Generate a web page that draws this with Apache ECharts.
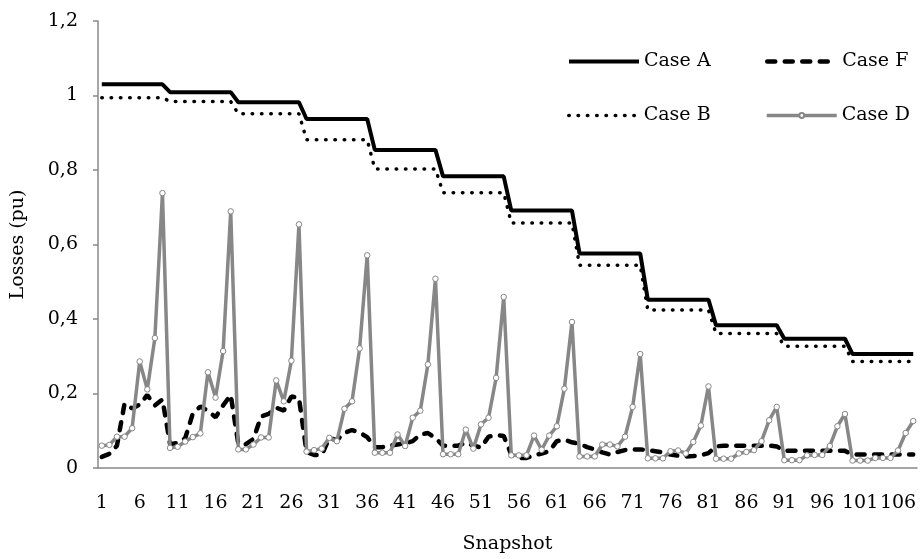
<!DOCTYPE html>
<html>
<head>
<meta charset="utf-8">
<script src="https://cdn.jsdelivr.net/npm/echarts@6/dist/echarts.min.js"></script>
<style>
  html, body { margin: 0; padding: 0; background: #fff; }
  #chart { width: 921px; height: 559px; }
</style>
</head>
<body>
<div id="chart"></div>
<script>
// snapshot numbers on the x axis
const snapshots = [
  1, 2, 3, 4, 5, 6, 7, 8, 9, 10, 11, 12, 13, 14, 15, 16, 17, 18,
  19, 20, 21, 22, 23, 24, 25, 26, 27, 28, 29, 30, 31, 32, 33, 34, 35, 36,
  37, 38, 39, 40, 41, 42, 43, 44, 45, 46, 47, 48, 49, 50, 51, 52, 53, 54,
  55, 56, 57, 58, 59, 60, 61, 62, 63, 64, 65, 66, 67, 68, 69, 70, 71, 72,
  73, 74, 75, 76, 77, 78, 79, 80, 81, 82, 83, 84, 85, 86, 87, 88, 89, 90,
  91, 92, 93, 94, 95, 96, 97, 98, 99, 100, 101, 102, 103, 104, 105, 106, 107, 108
];

// losses (pu), one row per block of 9 snapshots
const caseA = [
  1.030, 1.030, 1.030, 1.030, 1.030, 1.030, 1.030, 1.030, 1.030,
  1.009, 1.009, 1.009, 1.009, 1.009, 1.009, 1.009, 1.009, 1.009,
  0.982, 0.982, 0.982, 0.982, 0.982, 0.982, 0.982, 0.982, 0.982,
  0.937, 0.937, 0.937, 0.937, 0.937, 0.937, 0.937, 0.937, 0.937,
  0.854, 0.854, 0.854, 0.854, 0.854, 0.854, 0.854, 0.854, 0.854,
  0.783, 0.783, 0.783, 0.783, 0.783, 0.783, 0.783, 0.783, 0.783,
  0.691, 0.691, 0.691, 0.691, 0.691, 0.691, 0.691, 0.691, 0.691,
  0.576, 0.576, 0.576, 0.576, 0.576, 0.576, 0.576, 0.576, 0.576,
  0.452, 0.452, 0.452, 0.452, 0.452, 0.452, 0.452, 0.452, 0.452,
  0.383, 0.383, 0.383, 0.383, 0.383, 0.383, 0.383, 0.383, 0.383,
  0.347, 0.347, 0.347, 0.347, 0.347, 0.347, 0.347, 0.347, 0.347,
  0.306, 0.306, 0.306, 0.306, 0.306, 0.306, 0.306, 0.306, 0.306
];

const caseF = [
  0.030, 0.038, 0.060, 0.173, 0.160, 0.170, 0.196, 0.168, 0.184,
  0.064, 0.067, 0.080, 0.146, 0.165, 0.154, 0.136, 0.168, 0.196,
  0.065, 0.064, 0.078, 0.138, 0.145, 0.162, 0.154, 0.192, 0.188,
  0.043, 0.035, 0.035, 0.080, 0.075, 0.094, 0.102, 0.095, 0.083,
  0.056, 0.056, 0.060, 0.063, 0.066, 0.072, 0.090, 0.094, 0.080,
  0.060, 0.060, 0.060, 0.068, 0.060, 0.055, 0.084, 0.088, 0.086,
  0.036, 0.027, 0.027, 0.034, 0.039, 0.045, 0.072, 0.076, 0.069,
  0.065, 0.056, 0.050, 0.042, 0.036, 0.043, 0.048, 0.050, 0.050,
  0.048, 0.045, 0.042, 0.036, 0.033, 0.031, 0.032, 0.034, 0.040,
  0.058, 0.060, 0.060, 0.060, 0.060, 0.060, 0.060, 0.060, 0.058,
  0.046, 0.046, 0.046, 0.046, 0.046, 0.046, 0.046, 0.046, 0.046,
  0.036, 0.036, 0.036, 0.036, 0.036, 0.036, 0.036, 0.036, 0.036
];

const caseB = [
  0.994, 0.994, 0.994, 0.994, 0.994, 0.994, 0.994, 0.994, 0.994,
  0.984, 0.984, 0.984, 0.984, 0.984, 0.984, 0.984, 0.984, 0.984,
  0.951, 0.951, 0.951, 0.951, 0.951, 0.951, 0.951, 0.951, 0.951,
  0.881, 0.881, 0.881, 0.881, 0.881, 0.881, 0.881, 0.881, 0.881,
  0.803, 0.803, 0.803, 0.803, 0.803, 0.803, 0.803, 0.803, 0.803,
  0.739, 0.739, 0.739, 0.739, 0.739, 0.739, 0.739, 0.739, 0.739,
  0.658, 0.658, 0.658, 0.658, 0.658, 0.658, 0.658, 0.658, 0.658,
  0.544, 0.544, 0.544, 0.544, 0.544, 0.544, 0.544, 0.544, 0.544,
  0.424, 0.424, 0.424, 0.424, 0.424, 0.424, 0.424, 0.424, 0.424,
  0.361, 0.361, 0.361, 0.361, 0.361, 0.361, 0.361, 0.361, 0.361,
  0.327, 0.327, 0.327, 0.327, 0.327, 0.327, 0.327, 0.327, 0.327,
  0.286, 0.286, 0.286, 0.286, 0.286, 0.286, 0.286, 0.286, 0.286
];

const caseD = [
  0.060, 0.062, 0.084, 0.084, 0.107, 0.286, 0.211, 0.349, 0.738,
  0.054, 0.057, 0.071, 0.083, 0.093, 0.257, 0.189, 0.314, 0.689,
  0.050, 0.050, 0.063, 0.082, 0.082, 0.235, 0.179, 0.288, 0.654,
  0.044, 0.048, 0.052, 0.081, 0.072, 0.159, 0.179, 0.321, 0.571,
  0.041, 0.041, 0.041, 0.090, 0.059, 0.135, 0.154, 0.278, 0.508,
  0.037, 0.037, 0.037, 0.103, 0.052, 0.117, 0.135, 0.242, 0.459,
  0.034, 0.034, 0.034, 0.087, 0.049, 0.087, 0.112, 0.213, 0.392,
  0.031, 0.031, 0.031, 0.063, 0.063, 0.058, 0.084, 0.164, 0.306,
  0.026, 0.026, 0.026, 0.045, 0.047, 0.039, 0.070, 0.114, 0.219,
  0.025, 0.025, 0.025, 0.039, 0.043, 0.048, 0.072, 0.128, 0.164,
  0.021, 0.021, 0.021, 0.034, 0.035, 0.035, 0.059, 0.112, 0.145,
  0.020, 0.020, 0.020, 0.027, 0.027, 0.027, 0.047, 0.094, 0.126
];

const yTicks = [0, 0.2, 0.4, 0.6, 0.8, 1, 1.2];

const FONT = '"DejaVu Serif", serif';
const AXIS_GREY = '#888888';
const D_GREY = '#878787';

// line looks, shared by the series and their legend entries
const styleA = { color: '#000', width: 4 };
const styleF = { color: '#000', width: 4.5, type: [8, 9.5], cap: 'round' };
const styleB = { color: '#000', width: 3.5, type: [0.5, 8.8], cap: 'round' };
const styleD = { color: D_GREY, width: 3.5 };

const chart = echarts.init(document.getElementById('chart'));

// one legend per entry so the 2x2 block sits exactly where it should
const legendItem = (name, left, top, lineStyle, withMarker) => ({
  data: [withMarker ? name : { name: name, itemStyle: { opacity: 0 } }],
  left: left,
  top: top,
  padding: 0,
  itemWidth: 70,
  itemHeight: withMarker ? 6 : 14,
  selectedMode: false,
  lineStyle: lineStyle,
  textStyle: { fontFamily: FONT, fontSize: 19, color: '#000' }
});

const option = {
  animation: false,
  backgroundColor: '#fff',
  grid: { left: 98, right: 4, top: 21, bottom: 91, containLabel: false },
  legend: [
    legendItem('Case A', 567, 52, styleA, false),
    legendItem('Case F', 765, 52, styleF, false),
    legendItem('Case B', 567, 106, styleB, false),
    legendItem('Case D', 765, 106, styleD, true)
  ],
  xAxis: {
    type: 'category',
    data: snapshots,
    boundaryGap: true,
    name: 'Snapshot',
    nameLocation: 'middle',
    nameGap: 67,
    nameTextStyle: { fontFamily: FONT, fontSize: 19, color: '#000' },
    axisLine: { lineStyle: { color: AXIS_GREY, width: 1.5 } },
    axisTick: { interval: 4, length: 6, lineStyle: { color: AXIS_GREY, width: 1.5 } },
    axisLabel: {
      interval: 4,
      hideOverlap: false,
      margin: 26,
      fontFamily: FONT,
      fontSize: 19,
      color: '#000'
    },
    splitLine: { show: false }
  },
  yAxis: {
    type: 'value',
    min: yTicks[0],
    max: yTicks[yTicks.length - 1],
    interval: 0.2,
    name: 'Losses (pu)',
    nameLocation: 'middle',
    nameGap: 70,
    nameTextStyle: { fontFamily: FONT, fontSize: 19, color: '#000' },
    axisLine: { show: true, lineStyle: { color: AXIS_GREY, width: 1.5 } },
    axisTick: { show: true, length: 5, lineStyle: { color: AXIS_GREY, width: 1.5 } },
    axisLabel: {
      margin: 20,
      fontFamily: FONT,
      fontSize: 19,
      color: '#000',
      formatter: (v) => String(+v.toFixed(1)).replace('.', ',')
    },
    splitLine: { show: false }
  },
  series: [
    {
      name: 'Case A',
      type: 'line',
      data: caseA,
      symbol: 'none',
      color: '#000',
      lineStyle: styleA
    },
    {
      name: 'Case F',
      type: 'line',
      data: caseF,
      symbol: 'none',
      color: '#000',
      lineStyle: styleF
    },
    {
      name: 'Case B',
      type: 'line',
      data: caseB,
      symbol: 'none',
      color: '#000',
      lineStyle: styleB
    },
    {
      name: 'Case D',
      type: 'line',
      data: caseD,
      symbol: 'circle',
      symbolSize: 5.5,
      showAllSymbol: true,
      color: D_GREY,
      itemStyle: { color: '#fff', borderColor: D_GREY, borderWidth: 1 },
      lineStyle: styleD
    }
  ]
};

chart.setOption(option);
</script>
</body>
</html>
